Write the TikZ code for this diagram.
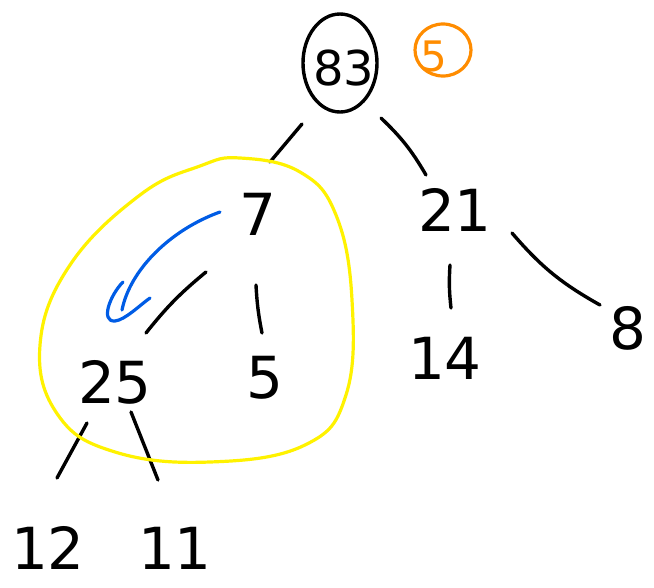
\documentclass[tikz,border=0pt]{standalone}
\usepackage{fontspec}
\setmainfont{DejaVu Sans}
\begin{document}
\begin{tikzpicture}[x=1pt,y=-1pt,
  num/.style={font=\fontsize{58}{58}\selectfont, inner sep=0pt},
  stroke/.style={line width=3.4pt, line cap=round, black},
  marker/.style={line width=3.2pt, line cap=round, line join=round}]
\useasboundingbox (0,0) rectangle (654,587);
% root and its marked key
\node[num, font=\fontsize{48}{48}\selectfont] (n83) at (344,68) {83};
\draw[stroke] (340,63) ellipse [x radius=37, y radius=49];
\node[num, font=\fontsize{42}{42}\selectfont, text=orange!90!yellow] (n5o) at (434,56) {5};
\draw[marker, orange!90!yellow] (443,50) ellipse [x radius=28, y radius=26];
% inner nodes
\node[num] (n7) at (258,214) {7};
\node[num] (n21) at (455,210) {21};
\node[num] (n25) at (115,382) {25};
\node[num] (n5) at (265,378) {5};
\node[num] (n14) at (445,358) {14};
\node[num] (n8) at (628,328) {8};
\node[num] (n12) at (48,548) {12};
\node[num] (n11) at (175,548) {11};
% edge end points
\coordinate (a1) at (302,124); \coordinate (a2) at (270,162);
\coordinate (b1) at (381,118); \coordinate (b2) at (426,175);
\coordinate (c1) at (206,272); \coordinate (c2) at (146,333);
\coordinate (d1) at (256,285); \coordinate (d2) at (262,333);
\coordinate (e1) at (450,265); \coordinate (e2) at (451,308);
\coordinate (f1) at (512,233); \coordinate (f2) at (600,305);
\coordinate (g1) at (87,423);  \coordinate (g2) at (57,478);
\coordinate (h1) at (131,412); \coordinate (h2) at (158,480);
\draw[stroke] (a1) -- (a2);
\draw[stroke] (b1) to[bend left=8] (b2);
\draw[stroke] (c1) to[bend right=6] (c2);
\draw[stroke] (d1) to[bend right=4] (d2);
\draw[stroke] (e1) to[bend right=5] (e2);
\draw[stroke] (f1) to[bend right=10] (f2);
\draw[stroke] (g1) -- (g2);
\draw[stroke] (h1) -- (h2);
% highlighted subtree
\draw[marker, yellow] plot[smooth cycle, tension=0.7] coordinates {
  (240,158) (300,172) (336,215) (352,300) (346,395) (305,445)
  (210,462) (115,452) (58,415) (40,345) (70,265) (140,195) (200,166)};
% rotation arrow
\draw[marker, blue!60!cyan!90!black] (220,212) .. controls (170,230) and (130,270) .. (122,310);
\draw[marker, blue!60!cyan!90!black] (123,282) .. controls (110,295) and (100,322) .. (115,321)
  .. controls (125,320) and (140,305) .. (150,298);
\end{tikzpicture}
\end{document}
